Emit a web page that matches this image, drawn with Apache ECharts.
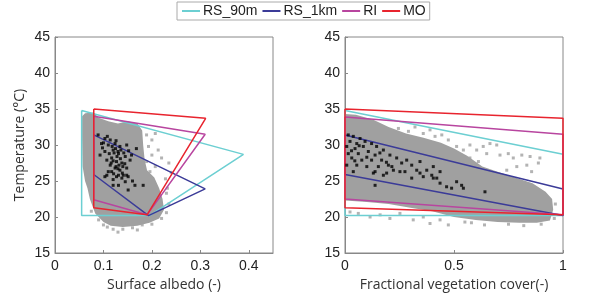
<!DOCTYPE html>
<html>
<head>
<meta charset="utf-8">
<script src="https://cdn.jsdelivr.net/npm/echarts@6/dist/echarts.min.js"></script>
<style>
  html, body { margin: 0; padding: 0; background: #fff; }
  #chart { width: 596px; height: 301px; }
</style>
</head>
<body>
<div id="chart"></div>
<script>
// axis ranges / ticks
const tempTicks = [15, 20, 25, 30, 35, 40, 45]
const albedoTicks = [0, 0.1, 0.2, 0.3, 0.4]
const fvcTicks = [0, 0.5, 1]
const legendNames = ['RS_90m', 'RS_1km', 'RI', 'MO']

// dry/wet edge polygons, left panel (albedo, T)
const rs90Albedo = [[0.055, 34.8], [0.389, 28.7], [0.195, 20.2], [0.055, 20.2], [0.055, 34.8]]
const rs1kAlbedo = [[0.08, 31.4], [0.31, 23.9], [0.193, 20.2], [0.08, 25.9], [0.08, 31.4]]
const riAlbedo = [[0.08, 34.0], [0.31, 31.5], [0.19, 20.3], [0.08, 22.4], [0.08, 34.0]]
const moAlbedo = [[0.08, 35.0], [0.311, 33.7], [0.19, 20.3], [0.08, 21.3], [0.08, 35.0]]

// right panel (fvc, T)
const rs90Fvc = [[0, 34.8], [1, 28.7], [1, 20.2], [0, 20.2], [0, 34.8]]
const rs1kFvc = [[0, 31.4], [1, 23.9], [1, 20.2], [0, 25.9], [0, 31.4]]
const riFvc = [[0, 33.9], [1, 31.5], [1, 20.3], [0, 22.5], [0, 33.9]]
const moFvc = [[0, 35.0], [1, 33.7], [1, 20.3], [0, 21.3], [0, 35.0]]

// dense pixel clouds (outline of the grey mass)
const cloudAlbedo = [
  [0.056, 34.0], [0.062, 34.4], [0.08, 34.5], [0.09, 33.8], [0.11, 33.3], [0.13, 33.0],
  [0.15, 33.3], [0.17, 33.0], [0.18, 32.0], [0.182, 30], [0.185, 28], [0.19, 26.5],
  [0.205, 25.5], [0.215, 24], [0.222, 22.5], [0.225, 21], [0.215, 19.8], [0.195, 19.2],
  [0.17, 18.8], [0.14, 18.6], [0.115, 18.8], [0.1, 19.3], [0.083, 20.5], [0.072, 22.5],
  [0.067, 24], [0.062, 25], [0.057, 27], [0.056, 31]
]
const cloudFvc = [
  [0, 34.3], [0.05, 34.2], [0.13, 33.5], [0.2, 32.5], [0.28, 31.6], [0.36, 31.0],
  [0.44, 30.3], [0.5, 29.5], [0.56, 28.5], [0.63, 27], [0.7, 26.3], [0.78, 25.5],
  [0.86, 24.7], [0.92, 23.5], [0.95, 22.5], [0.955, 21], [0.94, 19.5], [0.88, 19.2],
  [0.8, 19.2], [0.7, 19.3], [0.6, 19.6], [0.5, 20.0], [0.4, 20.8], [0.3, 21.3],
  [0.2, 21.8], [0.1, 22.1], [0, 22.3]
]

// sparse grey pixels outside the dense mass
const greyAlbedo = [
  [0.189, 31.4], [0.2, 30.7], [0.207, 31.6], [0.193, 29.8], [0.213, 29.3], [0.2, 28.6],
  [0.22, 28.2], [0.189, 27.7], [0.207, 27.0], [0.196, 26.3], [0.235, 27.5], [0.24, 26.2],
  [0.228, 25.3], [0.232, 24.0], [0.09, 19.6], [0.1, 18.9], [0.12, 18.3], [0.14, 18.3],
  [0.16, 18.5], [0.18, 18.9], [0.2, 19.0], [0.22, 19.8], [0.23, 20.6], [0.235, 21.8],
  [0.23, 23.3], [0.075, 20.8], [0.108, 18.6], [0.13, 17.9], [0.17, 18.2]
]
const greyFvc = [
  [0.512, 29.8], [0.543, 29.3], [0.573, 30.0], [0.604, 29.3], [0.634, 29.8], [0.665, 30.2],
  [0.696, 30.0], [0.65, 28.8], [0.711, 28.6], [0.749, 28.8], [0.772, 28.2], [0.811, 28.6],
  [0.849, 28.4], [0.887, 27.5], [0.894, 28.2], [0.834, 27.2], [0.788, 27.0], [0.856, 26.3],
  [0.742, 26.5], [0.573, 28.2], [0.528, 27.5], [0.612, 27.7], [0.245, 32.3], [0.291, 31.9],
  [0.321, 32.5], [0.359, 31.6], [0.39, 32.1], [0.413, 31.2], [0.444, 31.4], [0.474, 30.7],
  [0.329, 30.9], [0.275, 30.9], [0.023, 20.7], [0.061, 20.5], [0.115, 20.0], [0.161, 20.3],
  [0.206, 19.8], [0.252, 20.5], [0.313, 19.6], [0.359, 20.0], [0.39, 19.1], [0.436, 19.6],
  [0.474, 18.9], [0.55, 19.3], [0.64, 18.9], [0.75, 19.0], [0.82, 18.8], [0.9, 19.0],
  [0.96, 19.8], [0.965, 21.8], [0.58, 19.2]
]

// station (black) pixels
const blackAlbedo = [
  [0.089, 31.4], [0.103, 30.9], [0.114, 30.7], [0.096, 30.2], [0.11, 30.0], [0.124, 30.2],
  [0.134, 29.8], [0.148, 30.0], [0.12, 29.3], [0.103, 29.1], [0.093, 28.6], [0.131, 28.8],
  [0.145, 28.4], [0.117, 28.2], [0.107, 27.9], [0.127, 27.7], [0.138, 27.5], [0.155, 27.9],
  [0.114, 27.2], [0.124, 26.8], [0.134, 26.5], [0.148, 26.8], [0.117, 26.3], [0.141, 25.8],
  [0.127, 25.6], [0.151, 25.6], [0.103, 25.6], [0.158, 28.6], [0.168, 29.5], [0.11, 26.3],
  [0.121, 26.0], [0.131, 25.8], [0.138, 25.4], [0.148, 25.8], [0.145, 24.9], [0.12, 24.4],
  [0.131, 24.4], [0.165, 24.4], [0.182, 24.4], [0.151, 23.75], [0.107, 25.8],
  [0.118, 29.8], [0.125, 29.5], [0.13, 29.1], [0.122, 28.9], [0.128, 28.4], [0.135, 28.1],
  [0.12, 27.8], [0.132, 27.2], [0.126, 27.0], [0.14, 27.0], [0.13, 26.7], [0.12, 25.2],
  [0.136, 29.3], [0.112, 28.8], [0.142, 28.9], [0.1, 30.3], [0.108, 31.2], [0.126, 30.6],
  [0.139, 26.1], [0.116, 27.5], [0.144, 27.4], [0.152, 29.2], [0.16, 25.0], [0.098, 29.6]
]
const blackFvc = [
  [0.015, 31.4], [0.038, 31.2], [0.069, 30.9], [0.023, 30.5], [0.054, 30.2], [0.092, 30.5],
  [0.122, 30.2], [0.008, 29.8], [0.046, 29.5], [0.084, 29.8], [0.145, 29.8], [0.176, 29.3],
  [0.015, 28.8], [0.061, 28.8], [0.107, 29.1], [0.138, 28.6], [0.206, 28.6], [0.031, 28.2],
  [0.077, 27.9], [0.122, 27.9], [0.168, 27.9], [0.237, 28.2], [0.283, 27.9], [0.008, 27.2],
  [0.054, 27.2], [0.1, 27.0], [0.153, 27.0], [0.199, 27.2], [0.26, 27.5], [0.306, 27.2],
  [0.344, 27.7], [0.222, 26.5], [0.275, 26.3], [0.329, 26.5], [0.375, 26.5], [0.405, 27.0],
  [0.436, 26.3], [0.038, 26.3], [0.13, 26.1], [0.176, 25.8], [0.359, 25.6], [0.306, 25.4],
  [0.405, 25.4], [0.138, 26.3], [0.191, 26.1], [0.252, 26.3], [0.344, 26.1], [0.398, 25.8],
  [0.421, 25.4], [0.436, 24.7], [0.466, 24.2], [0.138, 24.4], [0.512, 24.9], [0.535, 24.4],
  [0.543, 24.0], [0.489, 24.0], [0.642, 23.5], [0.03, 29.2], [0.065, 29.9], [0.1, 28.3],
  [0.16, 28.9], [0.045, 27.8], [0.19, 27.6], [0.215, 27.0]
]

const colors = { RS_90m: '#6ccfd2', RS_1km: '#3b3b98', RI: '#b8459f', MO: '#e8242e' }

function edge(name, data, i) {
  return {
    name: name, type: 'line', xAxisIndex: i, yAxisIndex: i, data: data,
    symbol: 'none', z: 3, silent: true,
    lineStyle: { color: colors[name], width: 1.5 },
    itemStyle: { color: colors[name] },
  }
}
function cloud(poly, i) {
  return {
    type: 'custom', xAxisIndex: i, yAxisIndex: i, data: [0], silent: true, z: 1,
    renderItem: function (params, api) {
      return {
        type: 'polygon',
        shape: { points: poly.map(p => api.coord(p)) },
        style: { fill: '#a0a0a0' },
      }
    },
  }
}
function dots(data, i, color, size, z) {
  return {
    type: 'scatter', xAxisIndex: i, yAxisIndex: i, data: data, silent: true, z: z,
    symbol: 'rect', symbolSize: size, itemStyle: { color: color },
  }
}

const labelFont = { color: '#222', fontSize: 14, fontFamily: 'Liberation Sans' }
const nameFont = { color: '#333', fontSize: 14, fontFamily: 'Open Sans' }
const axisLine = { show: true, lineStyle: { color: '#888' } }

function yAx(i) {
  return {
    type: 'value', gridIndex: i, min: tempTicks[0], max: tempTicks[tempTicks.length - 1], interval: 5,
    splitLine: { show: false }, axisLine: axisLine,
    axisTick: { show: true, inside: true, length: 3, lineStyle: { color: '#888' } },
    axisLabel: Object.assign({ margin: 5 }, labelFont),
    name: i === 0 ? 'Temperature (°C)' : '', nameLocation: 'middle', nameGap: 28, nameTextStyle: nameFont,
  }
}

let mycharts = echarts.init(document.getElementById('chart'))
mycharts.setOption({
  animation: false,
  legend: {
    data: legendNames, left: 177, top: 2, itemWidth: 18, itemHeight: 2, itemGap: 5,
    icon: 'rect', padding: [2, 4, 2, 5], borderColor: '#aaa', borderWidth: 1,
    textStyle: { fontSize: 14, fontFamily: 'Liberation Sans', color: '#222', padding: [0, 0, 0, -2] },
  },
  grid: [
    { left: 55, top: 37, width: 218, height: 216, show: true, borderColor: '#888' },
    { left: 345, top: 37, width: 218, height: 216, show: true, borderColor: '#888' },
  ],
  xAxis: [
    {
      type: 'value', gridIndex: 0, min: 0, max: 0.45, interval: 0.1,
      splitLine: { show: false }, axisLine: axisLine,
      axisTick: { show: true, inside: true, length: 3, lineStyle: { color: '#888' } },
      axisLabel: Object.assign({ margin: 6, showMaxLabel: false }, labelFont),
      name: 'Surface albedo (-)', nameLocation: 'middle', nameGap: 24, nameTextStyle: nameFont,
    },
    {
      type: 'value', gridIndex: 1, min: 0, max: 1, interval: 0.5,
      splitLine: { show: false }, axisLine: axisLine,
      axisTick: { show: true, inside: true, length: 3, lineStyle: { color: '#888' } },
      axisLabel: Object.assign({ margin: 6 }, labelFont),
      name: 'Fractional vegetation cover(-)', nameLocation: 'middle', nameGap: 24, nameTextStyle: nameFont,
    },
  ],
  yAxis: [yAx(0), yAx(1)],
  series: [
    cloud(cloudAlbedo, 0),
    cloud(cloudFvc, 1),
    dots(greyAlbedo, 0, '#a0a0a0', 3, 2),
    dots(greyFvc, 1, '#a0a0a0', 3, 2),
    edge('RS_90m', rs90Albedo, 0),
    edge('RS_1km', rs1kAlbedo, 0),
    edge('RI', riAlbedo, 0),
    edge('MO', moAlbedo, 0),
    edge('RS_90m', rs90Fvc, 1),
    edge('RS_1km', rs1kFvc, 1),
    edge('RI', riFvc, 1),
    edge('MO', moFvc, 1),
    dots(blackAlbedo, 0, '#000', 3, 4),
    dots(blackFvc, 1, '#000', 3, 4),
  ],
})
</script>
</body>
</html>
